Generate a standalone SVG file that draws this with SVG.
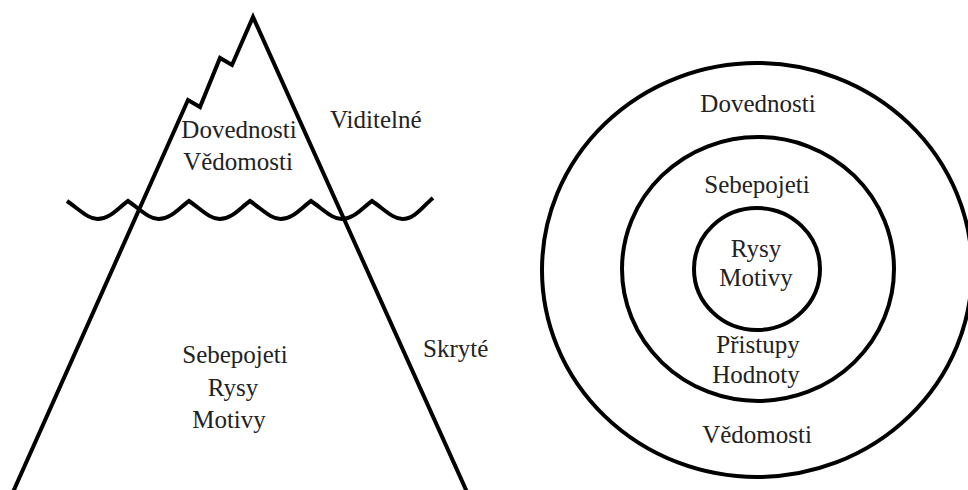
<svg xmlns="http://www.w3.org/2000/svg" width="968" height="490" viewBox="0 0 968 490">
  <style>
    .ln { fill: none; stroke: #000; stroke-width: 4; stroke-linejoin: miter; stroke-linecap: butt; }
    .t { font-family: 'Liberation Serif', 'DejaVu Serif', 'Times New Roman', serif; font-size: 25px; fill: #222; }
    .c { text-anchor: middle; }
  </style>
  <rect width="968" height="490" fill="#fff"/>
  <g id="iceberg">
    <path class="ln" d="M13,492 L188,100 L200,107 L220,58 L232,65 L253,17 L467,492"/>
    <path id="wave" class="ln" d="M67,201 C80,210 88,219 97.5,219 C110,219 118,208 128,201 C141,210 149,219 158.5,219 C171,219 179,208 189,201 C202,210 210,219 219.5,219 C232,219 240,208 250,201 C263,210 271,219 280.5,219 C293,219 301,208 311,201 C324,210 332,219 341.5,219 C354,219 362,208 372,201 C385,210 393,219 402.5,219 C415,219 423,206 433,198"/>
    <g id="visible-text" class="t c" font-family="Liberation Serif, serif">
      <text x="239" y="138">Dovednosti</text>
      <text x="238" y="170">Vědomosti</text>
    </g>
    <g id="hidden-text" class="t c" font-family="Liberation Serif, serif">
      <text x="235" y="363">Sebepojeti</text>
      <text x="233" y="396">Rysy</text>
      <text x="229" y="428">Motivy</text>
    </g>
    <text id="lbl-visible" class="t" x="330" y="128">Viditelné</text>
    <text id="lbl-hidden" class="t" x="423" y="357">Skryté</text>
  </g>
  <g id="circles">
    <g id="outer">
      <ellipse class="ln" cx="757" cy="270" rx="215" ry="207"/>
      <text class="t c" x="758" y="112">Dovednosti</text>
      <text class="t c" x="757" y="443">Vědomosti</text>
    </g>
    <g id="middle">
      <ellipse class="ln" cx="758" cy="269" rx="136" ry="132"/>
      <text class="t c" x="757" y="193">Sebepojeti</text>
      <text class="t c" x="758" y="353">Přistupy</text>
      <text class="t c" x="756" y="383">Hodnoty</text>
    </g>
    <g id="inner">
      <ellipse class="ln" cx="757" cy="269" rx="63" ry="61"/>
      <text class="t c" x="756" y="257">Rysy</text>
      <text class="t c" x="756" y="286">Motivy</text>
    </g>
  </g>
</svg>
